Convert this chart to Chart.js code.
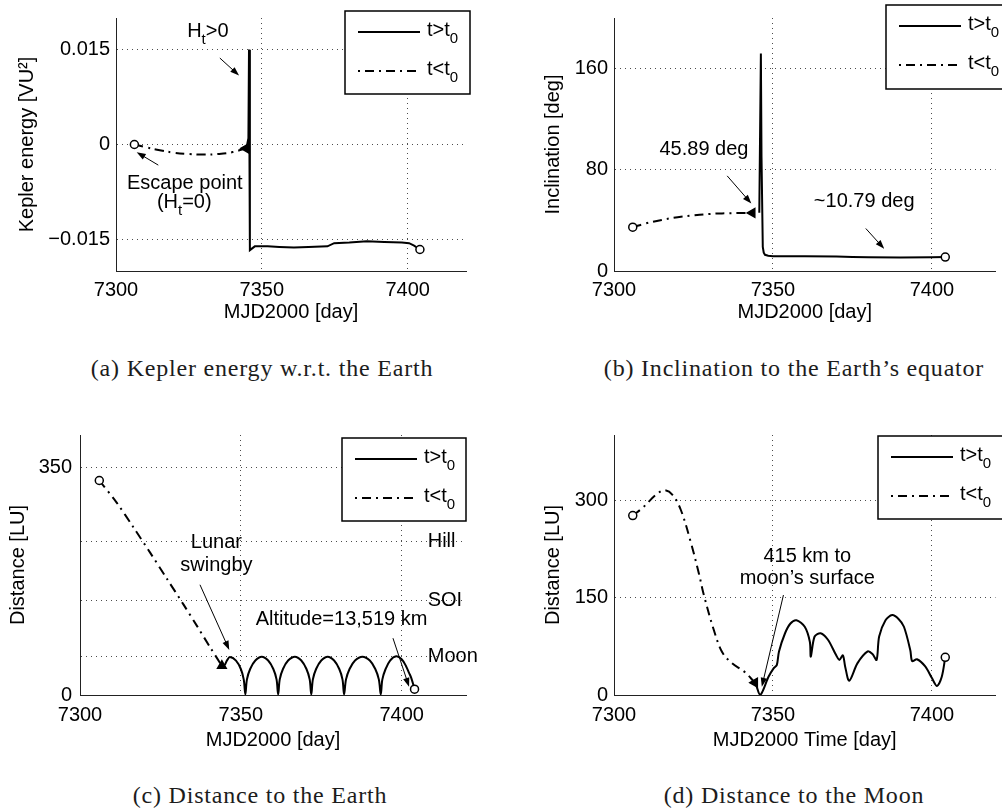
<!DOCTYPE html>
<html>
<head>
<meta charset="utf-8">
<title>Escape trajectory</title>
<script src="https://cdn.jsdelivr.net/npm/chart.js@4.4.1/dist/chart.umd.min.js"></script>
<style>
  body { margin: 0; background: #fff; }
  #page { position: relative; width: 1002px; height: 809px; overflow: hidden; background: #fff; }
  .panel { position: absolute; }
  .caption {
    position: absolute; transform: translate(-50%, -50%);
    font-family: "Liberation Serif", "DejaVu Serif", serif; font-size: 24px;
    letter-spacing: 0.8px; color: #1c1c1c; white-space: nowrap; line-height: 1;
  }
</style>
</head>
<body>
<div id="page">
  <div class="panel" style="left:0;top:0;width:500px;height:335px"><canvas id="chartA"></canvas></div>
  <div class="panel" style="left:500px;top:0;width:502px;height:335px"><canvas id="chartB"></canvas></div>
  <div class="panel" style="left:0;top:400px;width:500px;height:360px"><canvas id="chartC"></canvas></div>
  <div class="panel" style="left:500px;top:400px;width:502px;height:360px"><canvas id="chartD"></canvas></div>
  <div class="caption" style="left:262px;top:368px">(a) Kepler energy w.r.t. the Earth</div>
  <div class="caption" style="left:794px;top:368px">(b) Inclination to the Earth’s equator</div>
  <div class="caption" style="left:260px;top:795px">(c) Distance to the Earth</div>
  <div class="caption" style="left:794px;top:795px">(d) Distance to the Moon</div>
</div>

<script>
// Eje de tiempo compartido (MJD2000)
const dayTicks = [7300, 7350, 7400];
const dayTickLabels = ['7300', '7350', '7400'];

// (a) Energía de Kepler
const keplerBeforeDays = [7306.3, 7310, 7315, 7320, 7325, 7330, 7335, 7340, 7344.5];
const keplerBeforeVals = [0, -0.0004, -0.0009, -0.0013, -0.0015, -0.0016, -0.0015, -0.0012, -0.0006];
const keplerAfterDays = [7344.8, 7345.4, 7345.6, 7345.9, 7347.6, 7352, 7356, 7361, 7366, 7372.5, 7374.8, 7380, 7386, 7392, 7398, 7400.5, 7402.2, 7404.2];
const keplerAfterVals = [-0.0004, 0.001, 0.015, -0.0167, -0.0161, -0.0161, -0.0162, -0.0163, -0.0162, -0.0161, -0.0156, -0.0155, -0.0153, -0.0154, -0.0155, -0.0156, -0.016, -0.0166];
const keplerTicks = [-0.015, 0, 0.015];
const keplerTickLabels = ['\u22120.015', '0', '0.015'];

// (b) Inclinación
const inclBeforeDays = [7305.9, 7310, 7315, 7320, 7325, 7330, 7335, 7340, 7343.5];
const inclBeforeVals = [34.6, 37.6, 40.4, 42.5, 44.0, 45.1, 45.6, 45.85, 45.89];
const inclAfterDays = [7345.7, 7346.2, 7346.4, 7346.8, 7347.1, 7347.5, 7348.5, 7350, 7360, 7370, 7375, 7380, 7390, 7400, 7404.2];
const inclAfterVals = [46, 172, 90, 19, 14.5, 12.8, 12, 11.7, 11.7, 11.5, 11.1, 10.8, 10.7, 10.8, 11.0];
const inclTicks = [0, 80, 160];
const inclTickLabels = ['0', '80', '160'];

// (c) Distancia a la Tierra
const earthBeforeDays = [7306, 7311.4, 7316.6, 7321.8, 7327, 7332.2, 7336.4, 7340.5, 7344.1];
const earthBeforeVals = [330, 296, 258, 219, 179, 139, 106, 73, 45];
const earthAfterDays = [7345.0, 7345.8, 7346.6, 7348.5, 7350.0, 7350.9, 7351.4,
  7351.9, 7352.9, 7354.5, 7356.5, 7358.5, 7360.1, 7361.1, 7361.6,
  7362.1, 7363.1, 7364.7, 7366.8, 7368.8, 7370.4, 7371.4, 7371.9,
  7372.4, 7373.4, 7375.0, 7377.0, 7379.0, 7380.6, 7381.6, 7382.1,
  7382.7, 7383.8, 7385.5, 7387.8, 7390.1, 7391.8, 7392.9, 7393.5,
  7394.0, 7395.0, 7396.4, 7398.3, 7400.0, 7401.4, 7402.3, 7403.0, 7404.0];
const earthAfterVals = [46, 54, 58.5, 53, 40, 24, 1,
  24, 40, 53, 59, 53, 40, 24, 1,
  24, 40, 53, 59, 53, 40, 24, 1,
  24, 40, 53, 59, 53, 40, 24, 1,
  24, 40, 53, 59, 53, 40, 24, 1,
  24, 40, 53, 59.5, 55, 44, 34, 26, 9];
const earthTicks = [0, 59, 145, 236, 350];
const earthTickLabels = ['0', '', '', '', '350'];
const earthLevelVals = [236, 145, 59];
const earthLevelNames = ['Hill', 'SOI', 'Moon'];

// (d) Distancia a la Luna
const moonBeforeDays = [7305.9, 7309, 7313.2, 7315.8, 7318.4, 7321, 7324.1, 7326.7, 7328.2, 7331.4, 7334, 7337.1, 7341.2, 7344.3];
const moonBeforeVals = [276, 288, 308, 315, 308, 285, 236, 187, 155, 100, 66, 49, 35, 19];
const moonAfterDays = [7344.6, 7346.0, 7348.6, 7350.2, 7351.2, 7351.9, 7353.8, 7355.5, 7357.4, 7360.0, 7361.6, 7361.9, 7363.1, 7365.0, 7367.3, 7369.9, 7370.9, 7372.0, 7372.7, 7374.0, 7376.6, 7379.8, 7381.3, 7382.6, 7383.4, 7385.4, 7387.5, 7389.5, 7391.2, 7393.2, 7393.8, 7395.3, 7397.9, 7400.0, 7401.6, 7403.1, 7404.2];
const moonAfterVals = [17, 0, 28, 41, 46, 67, 95, 110, 115, 105, 82, 59, 90, 95, 85, 61, 54, 61, 44, 22, 49, 67, 63, 54, 90, 115, 123, 117, 105, 69, 52, 55, 44, 26, 14, 28, 58];
const moonTicks = [0, 150, 300];
const moonTickLabels = ['0', '150', '300'];

// Leyenda: t>t0 (continua), t<t0 (punto y raya)
const legendEntries = [['t>t', '_0'], ['t<t', '_0']];

const FONT = '"Liberation Sans", Arial, Helvetica, sans-serif';
Chart.defaults.font.family = FONT;
Chart.defaults.font.size = 20;
Chart.defaults.color = '#000';

const GRID = 'rgba(0, 0, 0, 0.7)';
const DASH_DOT = [9, 5, 2, 5];

function points(days, vals) {
  return days.map((d, i) => ({ x: d, y: vals[i] }));
}

function solidSet(days, vals, tension) {
  const n = days.length;
  return {
    data: points(days, vals),
    showLine: true,
    borderColor: '#000',
    borderWidth: 2,
    tension: tension,
    pointRadius: days.map((d, i) => (i === n - 1 ? 4 : 0)),
    pointStyle: 'circle',
    pointBackgroundColor: '#fff',
    pointBorderColor: '#000',
    pointBorderWidth: 1.5
  };
}

function dashDotSet(days, vals, tension, rot) {
  const n = days.length;
  return {
    data: points(days, vals),
    showLine: true,
    borderColor: '#000',
    borderWidth: 2,
    borderDash: DASH_DOT,
    tension: tension,
    pointRadius: days.map((d, i) => (i === 0 ? 4 : i === n - 1 ? 5 : 0)),
    pointStyle: days.map((d, i) => (i === n - 1 ? 'triangle' : 'circle')),
    pointRotation: days.map((d, i) => (i === n - 1 ? rot : 0)),
    pointBackgroundColor: days.map((d, i) => (i === n - 1 ? '#000' : '#fff')),
    pointBorderColor: '#000',
    pointBorderWidth: 1.5
  };
}

// Texto con subíndices: las partes que empiezan con '_' van abajo
function drawRich(ctx, parts, x, y, align) {
  const main = '20px ' + FONT;
  const sub = '15px ' + FONT;
  let total = 0;
  parts.forEach(p => {
    ctx.font = p[0] === '_' ? sub : main;
    total += ctx.measureText(p.replace(/^_/, '')).width;
  });
  let cx = align === 'left' ? x : x - total / 2;
  ctx.textAlign = 'left';
  ctx.textBaseline = 'middle';
  parts.forEach(p => {
    const isSub = p[0] === '_';
    const txt = p.replace(/^_/, '');
    ctx.font = isSub ? sub : main;
    ctx.fillText(txt, cx, isSub ? y + 9 : y);
    cx += ctx.measureText(txt).width;
  });
}

function drawArrow(ctx, x1, y1, x2, y2) {
  const ang = Math.atan2(y2 - y1, x2 - x1);
  const head = 9, half = 3.2;
  const c = Math.cos(ang), s = Math.sin(ang);
  ctx.lineWidth = 1;
  ctx.beginPath();
  ctx.moveTo(x1, y1);
  ctx.lineTo(x2 - c * head * 0.8, y2 - s * head * 0.8);
  ctx.stroke();
  ctx.beginPath();
  ctx.moveTo(x2, y2);
  ctx.lineTo(x2 - head * c + half * s, y2 - head * s - half * c);
  ctx.lineTo(x2 - head * c - half * s, y2 - head * s + half * c);
  ctx.closePath();
  ctx.fill();
}

function drawLegend(chart, box) {
  const ctx = chart.ctx;
  ctx.save();
  ctx.fillStyle = '#fff';
  ctx.fillRect(box.x, box.y, box.w, box.h);
  ctx.lineWidth = 1.5;
  ctx.strokeStyle = '#000';
  ctx.strokeRect(box.x, box.y, box.w, box.h);
  legendEntries.forEach((entry, i) => {
    const ds = chart.data.datasets[i];
    const ry = box.y + 21 + i * 39;
    ctx.setLineDash(ds.borderDash || []);
    ctx.lineDashOffset = ds.borderDash ? 14 : 0;
    ctx.lineWidth = ds.borderWidth;
    ctx.beginPath();
    ctx.moveTo(box.x + 13, ry);
    ctx.lineTo(box.x + 75, ry);
    ctx.stroke();
    ctx.setLineDash([]);
    ctx.fillStyle = '#000';
    drawRich(ctx, entry, box.x + 82, ry - 2, 'left');
  });
  ctx.restore();
}

// Anotaciones (flechas, textos, leyenda) dibujadas encima de los datos
function overlay(cfg) {
  return {
    id: 'overlay',
    afterDatasetsDraw(chart) {
      const ctx = chart.ctx;
      const xs = chart.scales.x, ys = chart.scales.y;
      ctx.save();
      ctx.fillStyle = '#000';
      ctx.strokeStyle = '#000';
      (cfg.arrows || []).forEach(a => {
        drawArrow(ctx, xs.getPixelForValue(a[0]), ys.getPixelForValue(a[1]),
          xs.getPixelForValue(a[2]), ys.getPixelForValue(a[3]));
      });
      (cfg.texts || []).forEach(t => {
        drawRich(ctx, t.parts, xs.getPixelForValue(t.x), ys.getPixelForValue(t.y), t.align || 'center');
      });
      ctx.restore();
      if (cfg.legend) drawLegend(chart, cfg.legend);
    }
  };
}

function makeChart(id, cfg) {
  return new Chart(document.getElementById(id), {
    type: 'scatter',
    data: { datasets: cfg.datasets },
    options: {
      responsive: true,
      maintainAspectRatio: false,
      animation: false,
      events: [],
      layout: { padding: cfg.pad },
      plugins: { legend: { display: false }, tooltip: { enabled: false } },
      scales: {
        x: {
          type: 'linear', min: 7300, max: 7420,
          afterBuildTicks: s => { s.ticks = dayTicks.map(v => ({ value: v })); },
          afterFit: s => { s.height = cfg.xHeight; },
          ticks: { padding: cfg.xTickPad, autoSkip: false, maxRotation: 0, callback: (v, i) => dayTickLabels[i] },
          grid: { color: GRID, drawTicks: false, lineWidth: 1, borderDash: [1, 4] },
          border: { color: '#222', width: 1, dash: [1, 4] },
          title: { display: true, text: cfg.xTitle, padding: { top: 0, bottom: cfg.xTitlePad } }
        },
        y: {
          type: 'linear', min: cfg.yMin, max: cfg.yMax,
          afterBuildTicks: s => { s.ticks = cfg.yTicks.map(v => ({ value: v })); },
          afterFit: s => { s.width = cfg.yWidth; },
          ticks: { padding: cfg.yTickPad, autoSkip: false, callback: (v, i) => cfg.yTickLabels[i] },
          grid: { color: GRID, drawTicks: false, lineWidth: 1, borderDash: [1, 4] },
          border: { color: '#222', width: 1, dash: [1, 4] },
          title: { display: true, text: cfg.yTitle, padding: { top: cfg.yTitlePad, bottom: 0 } }
        }
      }
    },
    plugins: [overlay(cfg)]
  });
}

makeChart('chartA', {
  datasets: [solidSet(keplerAfterDays, keplerAfterVals, 0), dashDotSet(keplerBeforeDays, keplerBeforeVals, 0.4, 270)],
  pad: { top: 11, right: 34, left: 0, bottom: 0 },
  yMin: -0.02, yMax: 0.02, yTicks: keplerTicks, yTickLabels: keplerTickLabels,
  yWidth: 116, yTickPad: 6, yTitlePad: 15, yTitle: 'Kepler energy [VU²]',
  xHeight: 64, xTickPad: 7, xTitlePad: 11, xTitle: 'MJD2000 [day]',
  legend: { x: 345, y: 11, w: 125, h: 83 },
  texts: [
    { x: 7331.5, y: 0.0179, parts: ['H', '_t', '>0'] },
    { x: 7323.6, y: -0.00623, parts: ['Escape point'] },
    { x: 7323.4, y: -0.0091, parts: ['(H', '_t', '=0)'] }
  ],
  arrows: [
    [7335.6, 0.01367, 7342.2, 0.0109],
    [7314.5, -0.00326, 7307.1, -0.00122]
  ]
});

makeChart('chartB', {
  datasets: [solidSet(inclAfterDays, inclAfterVals, 0), dashDotSet(inclBeforeDays, inclBeforeVals, 0.4, 270)],
  pad: { top: 11, right: 3, left: 0, bottom: 0 },
  yMin: 0, yMax: 200, yTicks: inclTicks, yTickLabels: inclTickLabels,
  yWidth: 114, yTickPad: 6, yTitlePad: 41, yTitle: 'Inclination [deg]',
  xHeight: 64, xTickPad: 7, xTitlePad: 11, xTitle: 'MJD2000 [day]',
  legend: { x: 386, y: 5, w: 126, h: 84 },
  texts: [
    { x: 7328.3, y: 96.4, parts: ['45.89 deg'] },
    { x: 7378.7, y: 54.6, parts: ['~10.79 deg'] }
  ],
  arrows: [
    [7335.6, 75.2, 7343.2, 53.3],
    [7379.2, 33.6, 7385.0, 17.5]
  ]
});

makeChart('chartC', {
  datasets: [solidSet(earthAfterDays, earthAfterVals, 0.35), dashDotSet(earthBeforeDays, earthBeforeVals, 0.3, 240)],
  pad: { top: 35, right: 34, left: 0, bottom: 0 },
  yMin: 0, yMax: 400, yTicks: earthTicks, yTickLabels: earthTickLabels,
  yWidth: 80, yTickPad: 8, yTitlePad: 6, yTitle: 'Distance [LU]',
  xHeight: 65, xTickPad: 8, xTitlePad: 8, xTitle: 'MJD2000 [day]',
  legend: { x: 342, y: 38, w: 124, h: 83 },
  texts: [
    { x: 7342.4, y: 234.8, parts: ['Lunar'] },
    { x: 7342.4, y: 199.4, parts: ['swingby'] },
    { x: 7381.3, y: 115.6, parts: ['Altitude=13,519 km'] }
  ].concat(earthLevelNames.map((name, i) => ({ x: 7408.1, y: earthLevelVals[i], parts: [name], align: 'left' }))),
  arrows: [
    [7337.3, 169.6, 7346.4, 69.4],
    [7397.3, 87.4, 7402.3, 12.8]
  ]
});

makeChart('chartD', {
  datasets: [solidSet(moonAfterDays, moonAfterVals, 0.3), dashDotSet(moonBeforeDays, moonBeforeVals, 0.35, 270)],
  pad: { top: 35, right: 3, left: 0, bottom: 0 },
  yMin: 0, yMax: 400, yTicks: moonTicks, yTickLabels: moonTickLabels,
  yWidth: 114, yTickPad: 6, yTitlePad: 41, yTitle: 'Distance [LU]',
  xHeight: 65, xTickPad: 8, xTitlePad: 8, xTitle: 'MJD2000 Time [day]',
  legend: { x: 378, y: 36, w: 126, h: 83 },
  texts: [
    { x: 7360.8, y: 213.8, parts: ['415 km to'] },
    { x: 7360.8, y: 178.5, parts: ['moon’s surface'] }
  ],
  arrows: [
    [7353.3, 153.8, 7346.5, 12.8]
  ]
});
</script>
</body>
</html>
